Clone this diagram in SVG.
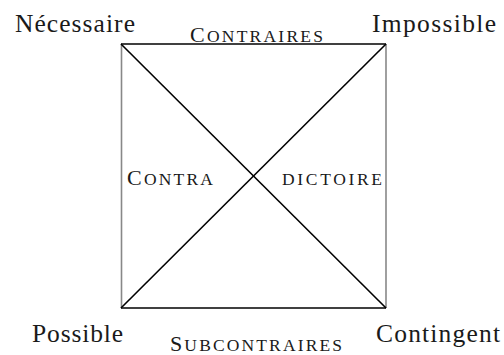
<svg xmlns="http://www.w3.org/2000/svg" width="504" height="355" viewBox="0 0 504 355">
<style>
text{font-family:"Liberation Serif","Times New Roman",serif;fill:#1a1a1a}
.lbl{font-size:25.5px}
.sc{font-size:22px}
.scs{font-size:17.5px}
.edge{stroke:#000;stroke-width:1.6;fill:none}
.side{stroke:#888;stroke-width:1.6;fill:none}
</style>
<rect width="504" height="355" fill="#fff"/>
<g id="connectors">
<line class="edge" x1="121" y1="44" x2="386" y2="44"/>
<line class="edge" x1="121" y1="308" x2="386" y2="308"/>
<line class="side" x1="121.5" y1="44" x2="121.5" y2="308"/>
<line class="side" x1="386" y1="44" x2="386" y2="308"/>
<line class="edge" x1="121" y1="44" x2="386" y2="308"/>
<line class="edge" x1="386" y1="44" x2="121" y2="308"/>
</g>
<g id="necessaire"><text class="lbl" x="15" y="32" textLength="120" lengthAdjust="spacing">Nécessaire</text></g>
<g id="impossible"><text class="lbl" x="372" y="32" textLength="124" lengthAdjust="spacing">Impossible</text></g>
<g id="possible"><text class="lbl" x="32" y="342" textLength="91" lengthAdjust="spacing">Possible</text></g>
<g id="contingent"><text class="lbl" x="376" y="342" textLength="124" lengthAdjust="spacing">Contingent</text></g>
<g id="contraires"><text x="190" y="42" textLength="133" lengthAdjust="spacing"><tspan class="sc">C</tspan><tspan class="scs">ONTRAIRES</tspan></text></g>
<g id="subcontraires"><text x="170" y="351" textLength="172" lengthAdjust="spacing"><tspan class="sc">S</tspan><tspan class="scs">UBCONTRAIRES</tspan></text></g>
<g id="contra"><text x="127" y="185" textLength="86" lengthAdjust="spacing"><tspan class="sc">C</tspan><tspan class="scs">ONTRA</tspan></text></g>
<g id="dictoire"><text x="282" y="185" textLength="100" lengthAdjust="spacing"><tspan class="scs">DICTOIRE</tspan></text></g>
</svg>
